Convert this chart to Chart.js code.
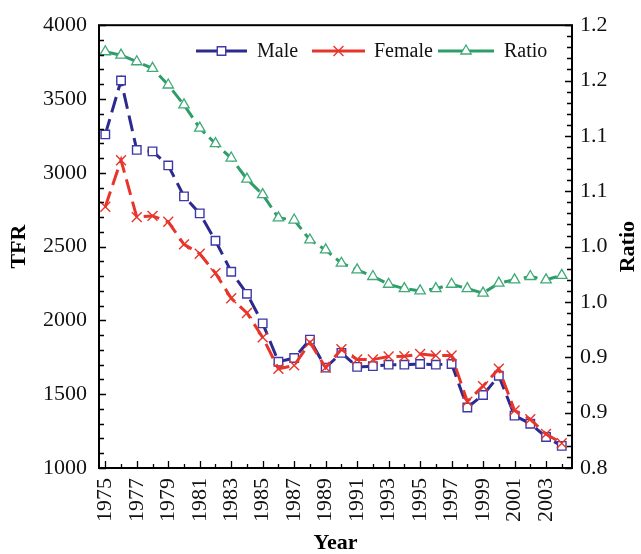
<!DOCTYPE html>
<html>
<head>
<meta charset="utf-8">
<script src="https://cdn.jsdelivr.net/npm/chart.js@4.4.0/dist/chart.umd.min.js"></script>
<style>
  html, body { margin: 0; padding: 0; background: #fff; }
  #wrap { width: 641px; height: 554px; }
</style>
</head>
<body>
<div id="wrap"><canvas id="tfrChart" width="641" height="554"></canvas></div>
<script>
// ---- data ----
const years = [1975, 1976, 1977, 1978, 1979, 1980, 1981, 1982, 1983, 1984,
               1985, 1986, 1987, 1988, 1989, 1990, 1991, 1992, 1993, 1994,
               1995, 1996, 1997, 1998, 1999, 2000, 2001, 2002, 2003, 2004];
const maleTFR = [3260, 3625, 3155, 3145, 3050, 2840, 2725, 2540, 2330, 2180,
                 1980, 1720, 1745, 1870, 1680, 1780, 1685, 1690, 1700, 1700,
                 1705, 1700, 1705, 1410, 1495, 1625, 1355, 1300, 1210, 1150];
const femaleTFR = [2770, 3085, 2700, 2708, 2668, 2515, 2452, 2320, 2150, 2050,
                   1885, 1672, 1695, 1850, 1680, 1805, 1735, 1735, 1755, 1757,
                   1772, 1762, 1762, 1450, 1555, 1672, 1390, 1330, 1230, 1168];
const sexRatio = [1.176, 1.173, 1.167, 1.161, 1.146, 1.128, 1.107, 1.093, 1.080, 1.061,
                  1.047, 1.026, 1.024, 1.006, 0.997, 0.985, 0.979, 0.973, 0.966, 0.962,
                  0.960, 0.962, 0.966, 0.962, 0.958, 0.967, 0.970, 0.973, 0.970, 0.974];

const yearTicks = [1975, 1977, 1979, 1981, 1983, 1985, 1987, 1989, 1991, 1993, 1995, 1997, 1999, 2001, 2003];
const tfrTicks = [1000, 1500, 2000, 2500, 3000, 3500, 4000];
const ratioTicks = [0.8, 0.85, 0.9, 0.95, 1.0, 1.05, 1.1, 1.15, 1.2];
const ratioTickLabels = ['0.8', '0.9', '0.9', '1.0', '1.0', '1.1', '1.1', '1.2', '1.2'];

// ---- styles ----
const SERIF = '"Liberation Serif", "Times New Roman", serif';
const BLUE = '#2c2a8c';
const RED = '#e8352b';
const GREEN = '#2f9d6a';

const toPoints = vals => vals.map((v, i) => ({ x: years[i], y: v }));

// frame, inward tick marks, axis titles and the legend
const decorPlugin = {
  id: 'decor',
  afterDraw(chart) {
    const ctx = chart.ctx;
    const a = chart.chartArea;
    const sx = chart.scales.x, sy = chart.scales.y, sr = chart.scales.y1;
    ctx.save();
    ctx.strokeStyle = '#000';
    ctx.lineWidth = 2;
    ctx.strokeRect(a.left, a.top, a.right - a.left, a.bottom - a.top);

    ctx.lineWidth = 1.3;
    ctx.beginPath();
    for (let v = 1000; v <= 4000; v += 100) {
      const y = Math.round(sy.getPixelForValue(v)) + 0.5;
      const len = v % 500 === 0 ? 7 : 5;
      ctx.moveTo(a.left, y); ctx.lineTo(a.left + len, y);
    }
    for (let i = 80; i <= 120; i++) {
      const y = Math.round(sr.getPixelForValue(i / 100)) + 0.5;
      const len = i % 5 === 0 ? 7 : 5;
      ctx.moveTo(a.right, y); ctx.lineTo(a.right - len, y);
    }
    for (let yr = 1975; yr <= 2004; yr++) {
      const x = Math.round(sx.getPixelForValue(yr)) + 0.5;
      const len = yr % 2 === 1 ? 7 : 4;
      ctx.moveTo(x, a.bottom); ctx.lineTo(x, a.bottom - len);
    }
    ctx.stroke();

    // axis titles
    ctx.fillStyle = '#000';
    ctx.font = 'bold 22px ' + SERIF;
    ctx.textAlign = 'center';
    ctx.textBaseline = 'middle';
    const midY = (a.top + a.bottom) / 2;
    ctx.save(); ctx.translate(19, midY); ctx.rotate(-Math.PI / 2); ctx.fillText('TFR', 0, 0); ctx.restore();
    ctx.save(); ctx.translate(628, midY); ctx.rotate(-Math.PI / 2); ctx.fillText('Ratio', 0, 0); ctx.restore();
    ctx.fillText('Year', (a.left + a.right) / 2, 543);

    // legend
    const legendY = 51;
    const items = [
      { x1: 196, x2: 247, tx: 257, text: 'Male', ds: chart.data.datasets[0] },
      { x1: 312, x2: 365, tx: 374, text: 'Female', ds: chart.data.datasets[1] },
      { x1: 438, x2: 494, tx: 504, text: 'Ratio', ds: chart.data.datasets[2] }
    ];
    ctx.font = '20px ' + SERIF;
    ctx.textAlign = 'left';
    items.forEach(it => {
      ctx.strokeStyle = it.ds.borderColor;
      ctx.lineWidth = 3;
      ctx.beginPath(); ctx.moveTo(it.x1, legendY); ctx.lineTo(it.x2, legendY); ctx.stroke();
      const cx = (it.x1 + it.x2) / 2;
      ctx.fillStyle = '#fff';
      ctx.strokeStyle = it.ds.pointBorderColor;
      ctx.lineWidth = it.ds.pointBorderWidth;
      Chart.helpers.drawPoint(ctx, {
        pointStyle: it.ds.pointStyle, radius: it.ds.pointRadius, rotation: 0,
        borderWidth: it.ds.pointBorderWidth
      }, cx, legendY);
      ctx.fillStyle = '#111';
      ctx.fillText(it.text, it.tx, legendY + 1);
    });
    ctx.restore();
  }
};

const tickFont = { family: SERIF, size: 22 };

new Chart(document.getElementById('tfrChart'), {
  type: 'line',
  data: {
    datasets: [
      {
        label: 'Male', data: toPoints(maleTFR), yAxisID: 'y', order: 1,
        borderColor: BLUE, borderWidth: 3, borderDash: [16, 7],
        pointStyle: 'rect', pointRadius: 6, pointBorderWidth: 1.4,
        pointBorderColor: '#3d39a6', pointBackgroundColor: '#fff'
      },
      {
        label: 'Female', data: toPoints(femaleTFR), yAxisID: 'y', order: 0,
        borderColor: RED, borderWidth: 3, borderDash: [16, 7],
        pointStyle: 'crossRot', pointRadius: 7, pointBorderWidth: 1.4,
        pointBorderColor: RED, pointBackgroundColor: RED
      },
      {
        label: 'Ratio', data: toPoints(sexRatio), yAxisID: 'y1', order: 2,
        borderColor: GREEN, borderWidth: 3, borderDash: [14, 6],
        pointStyle: 'triangle', pointRadius: 6, pointBorderWidth: 1.3,
        pointBorderColor: '#3faa78', pointBackgroundColor: '#fff'
      }
    ]
  },
  options: {
    responsive: false,
    animation: false,
    layout: { padding: { top: 16, left: 0, right: 0, bottom: 0 } },
    plugins: { legend: { display: false }, tooltip: { enabled: false } },
    scales: {
      x: {
        type: 'linear', min: 1974.6, max: 2004.65,
        afterBuildTicks: s => { s.ticks = yearTicks.map(v => ({ value: v })); },
        afterFit: s => { s.height = 86; },
        grid: { display: false, drawTicks: false },
        border: { display: false },
        ticks: {
          font: tickFont, color: '#111', padding: 10,
          minRotation: 90, maxRotation: 90, autoSkip: false,
          callback: v => String(v)
        }
      },
      y: {
        position: 'left', min: 1000, max: 4000,
        afterBuildTicks: s => { s.ticks = tfrTicks.map(v => ({ value: v })); },
        afterFit: s => { s.width = 99; },
        grid: { display: false, drawTicks: false },
        border: { display: false },
        ticks: { font: tickFont, color: '#111', padding: 12, callback: v => String(v) }
      },
      y1: {
        position: 'right', min: 0.8, max: 1.2,
        afterBuildTicks: s => { s.ticks = ratioTicks.map(v => ({ value: v })); },
        afterFit: s => { s.width = 69; },
        grid: { display: false, drawTicks: false },
        border: { display: false },
        ticks: { font: tickFont, color: '#111', padding: 8, callback: (v, i) => ratioTickLabels[i] }
      }
    }
  },
  plugins: [decorPlugin]
});
</script>
</body>
</html>
